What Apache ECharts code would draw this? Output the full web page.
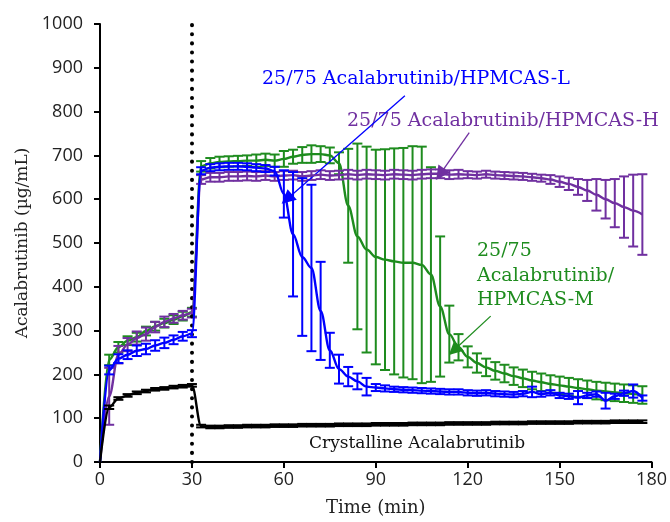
<!DOCTYPE html>
<html>
<head>
<meta charset="utf-8">
<script src="https://cdn.jsdelivr.net/npm/echarts@6/dist/echarts.min.js"></script>
<style>
  html, body { margin: 0; padding: 0; background: #fff; }
  #chart { width: 670px; height: 522px; }
</style>
</head>
<body>
<div id="chart"></div>
<script>
// Sampling times (min)
const times = [0, 3, 6, 9, 12, 15, 18, 21, 24, 27, 30, 33, 36, 39, 42, 45, 48, 51, 54, 57,
  60, 63, 66, 69, 72, 75, 78, 81, 84, 87, 90, 93, 96, 99, 102, 105, 108, 111, 114, 117,
  120, 123, 126, 129, 132, 135, 138, 141, 144, 147, 150, 153, 156, 159, 162, 165, 168, 171, 174, 177];

// 25/75 Acalabrutinib/HPMCAS-M : mean and SD (µg/mL)
const hpmcasM = [0, 233, 262, 277, 285, 299, 310, 317, 325, 333, 342, 675, 682, 685, 686, 687, 688, 688, 690, 688,
  692, 697, 701, 703, 703, 700, 682, 585, 515, 485, 468, 462, 458, 455, 455, 450, 428, 355, 292, 262,
  240, 226, 216, 208, 202, 196, 191, 186, 182, 178, 175, 172, 169, 166, 163, 161, 159, 157, 155, 153];
const hpmcasMsd = [0, 12, 12, 10, 10, 10, 10, 10, 10, 10, 10, 12, 12, 12, 12, 12, 12, 14, 14, 14,
  18, 16, 18, 20, 18, 18, 25, 130, 212, 235, 245, 252, 258, 262, 266, 270, 245, 160, 65, 30,
  24, 22, 20, 20, 20, 20, 20, 20, 20, 20, 20, 20, 20, 20, 20, 20, 20, 20, 20, 20];

// 25/75 Acalabrutinib/HPMCAS-H
const hpmcasH = [0, 150, 245, 268, 283, 292, 308, 320, 328, 335, 340, 645, 650, 650, 652, 652, 653, 652, 654, 652,
  654, 655, 652, 654, 656, 654, 655, 657, 655, 657, 656, 655, 657, 656, 655, 657, 658, 658, 656, 657,
  656, 655, 657, 655, 654, 653, 652, 650, 648, 645, 640, 635, 628, 620, 610, 600, 591, 582, 574, 565];
const hpmcasHsd = [0, 65, 20, 15, 15, 15, 12, 12, 10, 10, 10, 10, 10, 10, 10, 10, 10, 10, 10, 10,
  10, 10, 10, 10, 10, 10, 10, 10, 10, 10, 10, 10, 10, 10, 10, 10, 10, 10, 10, 10,
  8, 8, 8, 8, 8, 8, 8, 8, 8, 10, 12, 14, 18, 24, 36, 44, 55, 70, 82, 92];

// 25/75 Acalabrutinib/HPMCAS-L
const hpmcasL = [0, 210, 236, 245, 254, 258, 266, 272, 279, 287, 293, 665, 672, 674, 675, 675, 674, 672, 670, 664,
  612, 520, 468, 443, 345, 255, 212, 195, 184, 172, 170, 168, 166, 165, 164, 163, 162, 161, 160, 160,
  158, 157, 158, 156, 155, 154, 156, 160, 155, 158, 152, 150, 147, 152, 155, 140, 150, 157, 162, 146];
const hpmcasLsd = [0, 10, 10, 10, 12, 12, 12, 12, 10, 10, 8, 8, 8, 8, 8, 8, 8, 8, 8, 10,
  54, 142, 180, 190, 112, 40, 33, 22, 18, 20, 8, 7, 6, 6, 6, 6, 6, 6, 6, 6,
  6, 6, 6, 6, 6, 6, 6, 12, 6, 6, 6, 6, 15, 6, 6, 18, 6, 6, 15, 6];

// Crystalline Acalabrutinib
const crystalline = [0, 125, 145, 152, 158, 162, 166, 168, 171, 173, 175, 82, 80, 80, 81, 81, 82, 82, 82, 83,
  83, 83, 84, 84, 84, 84, 85, 85, 85, 85, 86, 86, 86, 86, 87, 87, 87, 87, 88, 88,
  88, 88, 88, 89, 89, 89, 89, 90, 90, 90, 90, 90, 91, 91, 91, 91, 92, 92, 92, 92];
const crystallineSd = [0, 4, 3, 3, 3, 3, 3, 3, 3, 3, 3, 3, 3, 3, 3, 3, 3, 3, 3, 3,
  3, 3, 3, 3, 3, 3, 3, 3, 3, 3, 3, 3, 3, 3, 3, 3, 3, 3, 3, 3,
  3, 3, 3, 3, 3, 3, 3, 3, 3, 3, 3, 3, 3, 3, 3, 3, 3, 3, 3, 3];

const xTicks = [0, 30, 60, 90, 120, 150, 180];
const yTicks = [0, 100, 200, 300, 400, 500, 600, 700, 800, 900, 1000];

const GREEN = '#1e8c1e', PURPLE = '#7030a0', BLUE = '#0000ff', BLACK = '#000000';
const SERIF = '"DejaVu Serif", serif';

function pairs(mean) { return times.map((t, i) => [t, mean[i]]); }
function bars(mean, sd) {
  const out = [];
  times.forEach((t, i) => { if (sd[i] > 0) out.push([t, mean[i] - sd[i], mean[i] + sd[i]]); });
  return out;
}
function errorSeries(mean, sd, color, z) {
  return {
    type: 'custom', z: z, silent: true,
    data: bars(mean, sd),
    renderItem: function (params, api) {
      const x = api.value(0);
      const lo = api.coord([x, api.value(1)]);
      const hi = api.coord([x, api.value(2)]);
      const w = 5;
      const st = { stroke: color, lineWidth: 2 };
      return {
        type: 'group', children: [
          { type: 'line', shape: { x1: lo[0], y1: lo[1], x2: hi[0], y2: hi[1] }, style: st },
          { type: 'line', shape: { x1: lo[0] - w, y1: lo[1], x2: lo[0] + w, y2: lo[1] }, style: st },
          { type: 'line', shape: { x1: hi[0] - w, y1: hi[1], x2: hi[0] + w, y2: hi[1] }, style: st }
        ]
      };
    }
  };
}
function lineSeries(name, mean, color, z) {
  return {
    name: name, type: 'line', data: pairs(mean), z: z,
    smooth: 0.35, smoothMonotone: 'x', showSymbol: false, silent: true,
    lineStyle: { color: color, width: 2.4 }
  };
}
// Pointer arrow from a label to its curve, in data coordinates
function arrow(from, to, color) {
  return {
    silent: true, symbol: ['none', 'triangle'], symbolSize: 14,
    label: { show: false },
    lineStyle: { color: color, width: 1.3, type: 'solid' },
    itemStyle: { color: color },
    emphasis: { disabled: true },
    data: [[{ coord: from }, { coord: to }]]
  };
}

const chart = echarts.init(document.getElementById('chart'));
const option = {
  animation: false,
  backgroundColor: '#fff',
  grid: { left: 100, right: 18, top: 24, bottom: 57 },
  xAxis: {
    type: 'value', min: 0, max: 180, interval: 30,
    name: 'Time (min)', nameLocation: 'middle', nameGap: 37,
    nameTextStyle: { fontFamily: SERIF, fontSize: 18, color: '#222' },
    axisLine: { lineStyle: { color: '#000', width: 2 } },
    axisTick: { length: 6, lineStyle: { color: '#000', width: 2 } },
    axisLabel: { fontFamily: '"Open Sans", sans-serif', fontSize: 18, color: '#222', margin: 9,
      formatter: v => xTicks.includes(v) ? String(v) : '' },
    splitLine: { show: false }
  },
  yAxis: {
    type: 'value', min: 0, max: 1000, interval: 100,
    name: 'Acalabrutinib (µg/mL)', nameLocation: 'middle', nameGap: 66, nameRotate: 90,
    nameTextStyle: { fontFamily: SERIF, fontSize: 17, color: '#222' },
    axisLine: { show: true, lineStyle: { color: '#000', width: 2 } },
    axisTick: { show: true, length: 6, lineStyle: { color: '#000', width: 2 } },
    axisLabel: { fontFamily: '"Open Sans", sans-serif', fontSize: 18, color: '#222', margin: 17,
      formatter: v => yTicks.includes(v) ? String(v) : '' },
    splitLine: { show: false }
  },
  series: [
    errorSeries(hpmcasM, hpmcasMsd, GREEN, 2),
    Object.assign(lineSeries('HPMCAS-M', hpmcasM, GREEN, 3), {
      markLine: arrow([127.5, 333], [115.5, 255], GREEN)
    }),
    errorSeries(hpmcasH, hpmcasHsd, PURPLE, 4),
    Object.assign(lineSeries('HPMCAS-H', hpmcasH, PURPLE, 5), {
      markLine: arrow([120.5, 752], [111, 657], PURPLE)
    }),
    errorSeries(hpmcasL, hpmcasLsd, BLUE, 6),
    Object.assign(lineSeries('HPMCAS-L', hpmcasL, BLUE, 7), {
      markLine: arrow([99.5, 836], [61, 600], BLUE)
    }),
    errorSeries(crystalline, crystallineSd, BLACK, 8),
    Object.assign(lineSeries('Crystalline', crystalline, BLACK, 9), {
      markLine: {
        silent: true, symbol: ['none', 'none'], label: { show: false },
        lineStyle: { color: '#000', width: 4, type: [0.1, 9], cap: 'round' },
        emphasis: { disabled: true },
        data: [[{ coord: [30, 0] }, { coord: [30, 1000] }]]
      }
    })
  ],
  graphic: [
    { type: 'text', left: 262, top: 70, silent: true,
      style: { text: '25/75 Acalabrutinib/HPMCAS-L', fill: BLUE, font: '19px ' + SERIF } },
    { type: 'text', left: 347, top: 112, silent: true,
      style: { text: '25/75 Acalabrutinib/HPMCAS-H', fill: PURPLE, font: '19px ' + SERIF } },
    { type: 'text', left: 477, top: 239, silent: true,
      style: { text: '25/75\nAcalabrutinib/\nHPMCAS-M', fill: GREEN, font: '19px ' + SERIF, lineHeight: 24.5 } },
    { type: 'text', left: 309, top: 435, silent: true,
      style: { text: 'Crystalline Acalabrutinib', fill: '#111', font: '17px ' + SERIF } }
  ]
};
chart.setOption(option);
</script>
</body>
</html>
